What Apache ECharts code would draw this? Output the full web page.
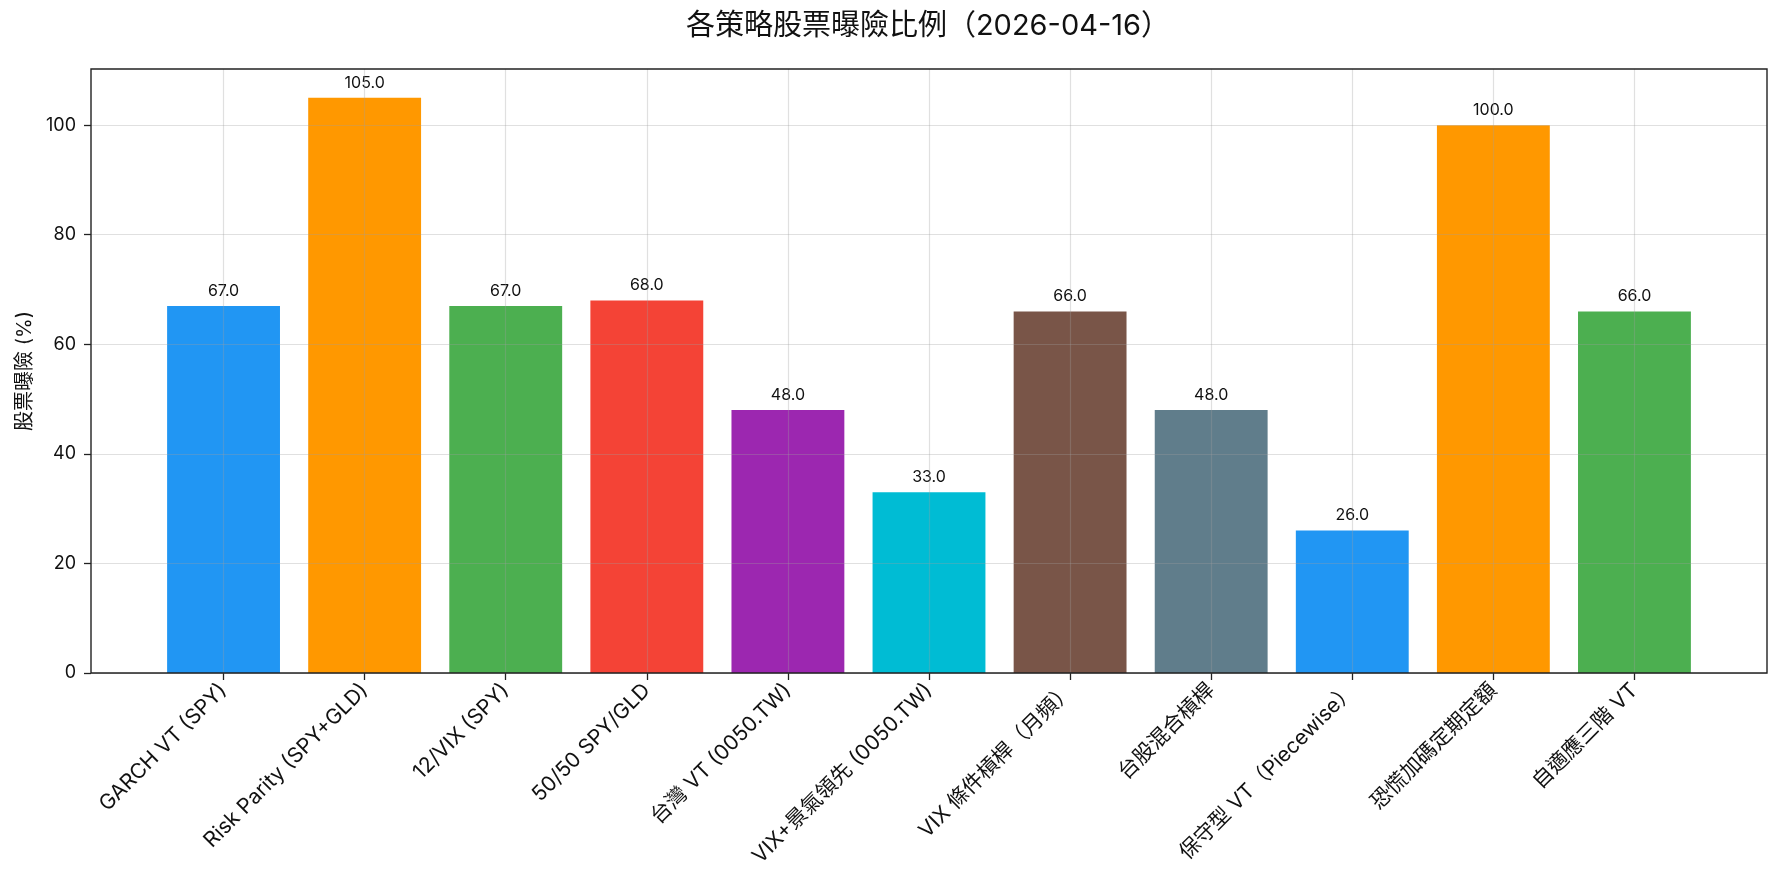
<!DOCTYPE html>
<html>
<head>
<meta charset="utf-8">
<script src="https://cdn.jsdelivr.net/npm/echarts@6/dist/echarts.min.js"></script>
<style>
  html, body { margin: 0; padding: 0; background: #fff; }
  #chart { width: 1782px; height: 884px; }
</style>
</head>
<body>
<div id="chart"></div>
<script>
// 各策略名稱
const categories = [
  'GARCH VT (SPY)', 'Risk Parity (SPY+GLD)', '12/VIX (SPY)', '50/50 SPY/GLD',
  '台灣 VT (0050.TW)', 'VIX+景氣領先 (0050.TW)', 'VIX 條件槓桿（月頻）', '台股混合槓桿',
  '保守型 VT（Piecewise）', '恐慌加碼定期定額', '自適應三階 VT'
];
// 股票曝險 (%)
const exposure = [67, 105, 67, 68, 48, 33, 66, 48, 26, 100, 66];
const barColors = [
  '#2196F3', '#FF9800', '#4CAF50', '#F44336', '#9C27B0', '#00BCD4',
  '#795548', '#607D8B', '#2196F3', '#FF9800', '#4CAF50'
];
const yTicks = [0, 20, 40, 60, 80, 100];
const yMax = 110.25;

const FONT = "Inter, 'Noto Sans CJK TC', sans-serif";
const gridColor = 'rgba(160,160,160,0.32)';

var myChart = echarts.init(document.getElementById('chart'));
myChart.setOption({
  animation: false,
  textStyle: { fontFamily: FONT },
  title: {
    text: '各策略股票曝險比例（2026-04-16）',
    left: 923,
    textAlign: 'center',
    top: 7,
    textStyle: { fontSize: 29, fontWeight: 'normal', color: '#111', fontFamily: FONT }
  },
  grid: [
    // 外框
    { left: 91, right: 15, top: 69, bottom: 211, show: true, borderColor: '#222', borderWidth: 1.4, backgroundColor: 'transparent', z: 6 },
    // 長條區域
    { left: 153, right: 77, top: 69, bottom: 211 }
  ],
  xAxis: [
    { gridIndex: 0, type: 'value', min: 0, max: 1, show: false },
    {
      gridIndex: 1,
      type: 'category',
      data: categories,
      axisLine: { show: false },
      axisTick: { show: true, alignWithLabel: true, length: 7, lineStyle: { color: '#222', width: 1.3 } },
      axisLabel: { interval: 0, rotate: 45, fontSize: 21, margin: 14, color: '#111' },
      splitLine: { show: false }
    }
  ],
  yAxis: [
    {
      gridIndex: 0,
      type: 'value',
      min: 0,
      max: yMax,
      interval: 20,
      z: 5,
      name: '股票曝險 (%)',
      nameLocation: 'middle',
      nameGap: 56,
      nameTextStyle: { fontSize: 20, color: '#111' },
      axisLine: { show: false },
      axisTick: { show: true, length: 7, customValues: yTicks, lineStyle: { color: '#222', width: 1.3 } },
      axisLabel: { fontSize: 18, margin: 15, color: '#111', customValues: yTicks },
      splitLine: { show: true, lineStyle: { color: gridColor, width: 1.2 } }
    },
    { gridIndex: 1, type: 'value', min: 0, max: yMax, interval: 20, show: false, splitLine: { show: false } }
  ],
  series: [
    {
      name: '股票曝險',
      type: 'bar',
      xAxisIndex: 1,
      yAxisIndex: 1,
      barWidth: '80%',
      data: exposure.map((v, i) => ({ value: v, itemStyle: { color: barColors[i] } })),
      label: {
        show: true,
        position: 'top',
        distance: 7,
        fontSize: 16,
        color: '#111',
        formatter: p => p.value.toFixed(1)
      },
      markLine: {
        silent: true,
        symbol: 'none',
        label: { show: false },
        lineStyle: { color: gridColor, type: 'solid', width: 1.2 },
        data: categories.map(c => ({ xAxis: c }))
      }
    }
  ]
});
</script>
</body>
</html>
